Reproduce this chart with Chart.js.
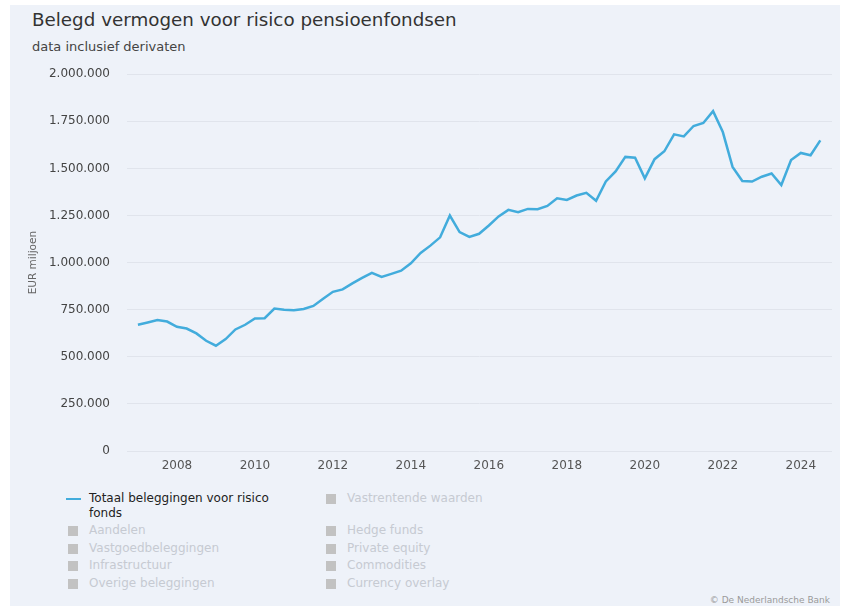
<!DOCTYPE html>
<html>
<head>
<meta charset="utf-8">
<script src="https://cdn.jsdelivr.net/npm/chart.js@4"></script>
<style>
    body { margin: 0; background: #fff; font-family: "DejaVu Sans", sans-serif; }
    #frame { position: absolute; left: 10px; top: 5px; width: 830px; height: 601px; background: #eef2f9; }
    .title { position: absolute; left: 32px; top: 9px; font-size: 18.3px; line-height: 22px; color: #333; }
    .subtitle { position: absolute; left: 32px; top: 39px; font-size: 13px; line-height: 16px; color: #444; }
    #chartBox { position: absolute; left: 0; top: 50px; width: 844px; height: 431px; }
    #legend { position: absolute; left: 66px; top: 491px; display: grid; grid-template-columns: 258px 258px; row-gap: 2.4px; font-size: 12px; line-height: 15px; }
    .item { position: relative; padding-left: 23px; }
    .item .txt { display: inline-block; max-width: 200px; }
    .item .box { position: absolute; left: 2px; top: 3px; width: 10px; height: 10px; background: #c2c2c2; }
    .item .ln { position: absolute; left: 0; top: 7px; width: 15px; height: 2px; background: #42acdc; }
    .item.on { color: #222; }
    .item.off { color: #c6cad2; }
    .credit { position: absolute; right: 14px; top: 595px; font-size: 9px; line-height: 11px; color: #9a9a9a; }
</style>
</head>
<body>
<div id="frame"></div>
<div class="title">Belegd vermogen voor risico pensioenfondsen</div>
<div class="subtitle">data inclusief derivaten</div>
<div id="chartBox"><canvas id="chart"></canvas></div>
<div id="legend"></div>
<div class="credit">© De Nederlandsche Bank</div>

<script>
// Quarter ends (year-month)
const quarters = [
    '2006-12',
    '2007-03', '2007-06', '2007-09', '2007-12',
    '2008-03', '2008-06', '2008-09', '2008-12',
    '2009-03', '2009-06', '2009-09', '2009-12',
    '2010-03', '2010-06', '2010-09', '2010-12',
    '2011-03', '2011-06', '2011-09', '2011-12',
    '2012-03', '2012-06', '2012-09', '2012-12',
    '2013-03', '2013-06', '2013-09', '2013-12',
    '2014-03', '2014-06', '2014-09', '2014-12',
    '2015-03', '2015-06', '2015-09', '2015-12',
    '2016-03', '2016-06', '2016-09', '2016-12',
    '2017-03', '2017-06', '2017-09', '2017-12',
    '2018-03', '2018-06', '2018-09', '2018-12',
    '2019-03', '2019-06', '2019-09', '2019-12',
    '2020-03', '2020-06', '2020-09', '2020-12',
    '2021-03', '2021-06', '2021-09', '2021-12',
    '2022-03', '2022-06', '2022-09', '2022-12',
    '2023-03', '2023-06', '2023-09', '2023-12',
    '2024-03', '2024-06'
];

// Totaal beleggingen voor risico fonds, EUR miljoen
const totaal = [
    670000,
    682000, 695000, 687000, 659000,
    650000, 624000, 585000, 559000,
    594000, 645000, 670000, 703000,
    705000, 756000, 750000, 747000,
    754000, 770000, 808000, 845000,
    858000, 890000, 919000, 946000,
    924000, 940000, 957000, 996000,
    1051000, 1090000, 1134000, 1250000,
    1162000, 1136000, 1153000, 1197000,
    1245000, 1280000, 1267000, 1285000,
    1283000, 1301000, 1341000, 1333000,
    1356000, 1370000, 1328000, 1431000,
    1484000, 1561000, 1557000, 1447000,
    1549000, 1591000, 1681000, 1670000,
    1725000, 1741000, 1804000, 1693000,
    1508000, 1433000, 1430000, 1456000,
    1473000, 1412000, 1544000, 1582000,
    1570000, 1649000
];

const yearTicks = [2008, 2010, 2012, 2014, 2016, 2018, 2020, 2022, 2024];
const valueTicks = [0, 250000, 500000, 750000, 1000000, 1250000, 1500000, 1750000, 2000000];

// Legend entries (row order: left, right)
const mainSeries = 'Totaal beleggingen voor risico fonds';
const otherSeries = [
    'Vastrentende waarden',
    'Aandelen', 'Hedge funds',
    'Vastgoedbeleggingen', 'Private equity',
    'Infrastructuur', 'Commodities',
    'Overige beleggingen', 'Currency overlay'
];

function quarterToYear(q) {
    const parts = q.split('-');
    return Number(parts[0]) + Number(parts[1]) / 12;
}

function formatNumber(v) {
    return String(v).replace(/\B(?=(\d{3})+(?!\d))/g, '.');
}

const points = quarters.map((q, i) => ({ x: quarterToYear(q), y: totaal[i] }));

const ctx = document.getElementById('chart').getContext('2d');
new Chart(ctx, {
    type: 'line',
    data: {
        datasets: [{
            label: mainSeries,
            data: points,
            borderColor: '#42acdc',
            borderWidth: 2.5,
            pointRadius: 0,
            tension: 0,
            fill: false
        }]
    },
    options: {
        responsive: true,
        maintainAspectRatio: false,
        animation: false,
        layout: { padding: { left: 20, right: 12, top: 2, bottom: 0 } },
        plugins: {
            legend: { display: false },
            tooltip: { enabled: false }
        },
        scales: {
            x: {
                type: 'linear',
                min: 2006.72,
                max: 2024.8,
                afterBuildTicks: scale => { scale.ticks = yearTicks.map(v => ({ value: v })); },
                afterFit: scale => { scale.height = 30; },
                grid: { display: false, drawTicks: false },
                border: { display: false },
                ticks: {
                    padding: 8,
                    maxRotation: 0,
                    color: '#555',
                    font: { family: 'DejaVu Sans', size: 12 },
                    callback: v => String(v)
                }
            },
            y: {
                min: 0,
                max: 2000000,
                afterBuildTicks: scale => { scale.ticks = valueTicks.map(v => ({ value: v })); },
                afterFit: scale => { scale.width = 107; },
                grid: { color: '#e0e4ec', lineWidth: 1, drawTicks: false },
                border: { display: false },
                title: {
                    display: true,
                    text: 'EUR miljoen',
                    color: '#666',
                    font: { family: 'DejaVu Sans', size: 10.5 },
                    padding: { top: 7, bottom: 0 }
                },
                ticks: {
                    padding: 17,
                    color: '#444',
                    font: { family: 'DejaVu Sans', size: 12 },
                    callback: v => formatNumber(v)
                }
            }
        }
    }
});

// HTML legend
const legend = document.getElementById('legend');
function addItem(name, on) {
    const el = document.createElement('div');
    el.className = 'item ' + (on ? 'on' : 'off');
    el.innerHTML = (on ? '<span class="ln"></span>' : '<span class="box"></span>') +
        '<span class="txt">' + name + '</span>';
    legend.appendChild(el);
}
addItem(mainSeries, true);
otherSeries.forEach(name => addItem(name, false));
</script>
</body>
</html>
